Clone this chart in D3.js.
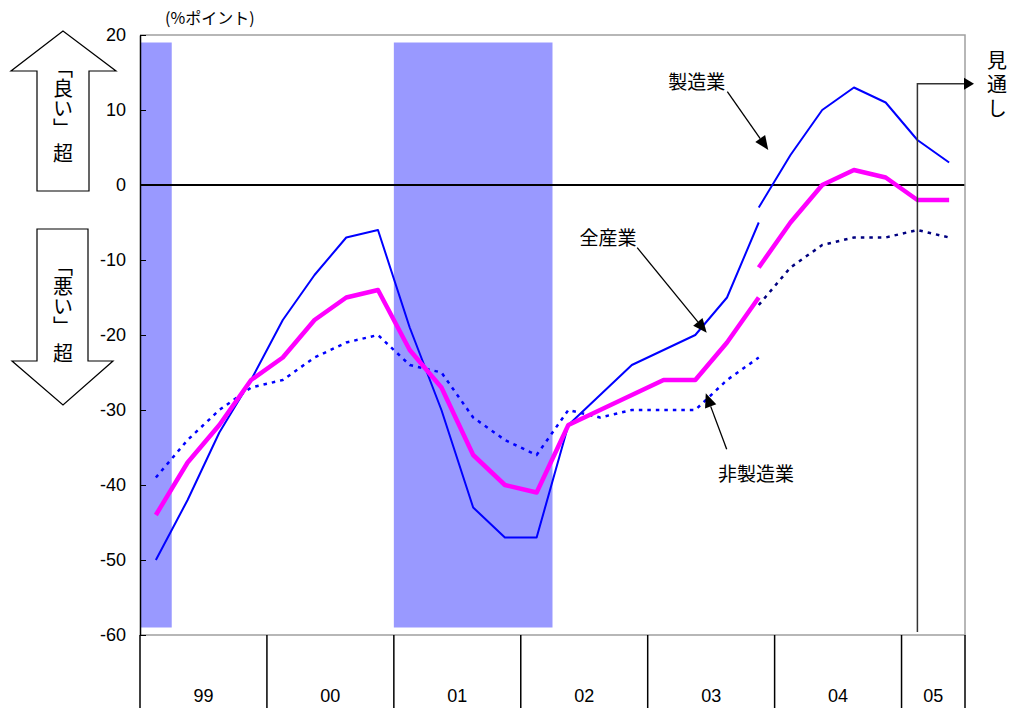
<!DOCTYPE html>
<html><head><meta charset="utf-8">
<script src="https://cdn.jsdelivr.net/npm/d3@7"></script>
<style>
html,body{margin:0;padding:0;background:#fff;}
svg{display:block;}
</style>
</head><body>
<svg id="c" width="1013" height="708"></svg>
<script>
// ---- data ----
const years = ["99","00","01","02","03","04","05"];
const quartersPerYear = [4,4,4,4,4,4,2];
const yTicks = [-60,-50,-40,-30,-20,-10,0,10,20];
// quarter index 0 = 99Q1; old series 0..19, new series 19..25
const mfgOld = [-50,-42,-33,-26,-18,-12,-7,-6,-19,-30,-43,-47,-47,-32,-28,-24,-22,-20,-15,-5];
const mfgNew = [-3,4,10,13,11,6,3];
const allOld = [-44,-37,-32,-26,-23,-18,-15,-14,-22,-27,-36,-40,-41,-32,-30,-28,-26,-26,-21,-15];
const allNew = [-11,-5,0,2,1,-2,-2];
const nonOld = [-39,-34,-30,-27,-26,-23,-21,-20,-24,-25,-31,-34,-36,-30,-31,-30,-30,-30,-26,-23];
const nonNew = [-16,-11,-8,-7,-7,-6,-7];
const newStart = 19;
// recession shading: [first quarter, last quarter]
const shadeFrom = [0, 8];
const shadeTo = [0, 12];
const shadeTop = 19, shadeBottom = -59;
const forecastQuarter = 24;

// ---- layout ----
const svg = d3.select("#c");
const L = 140, R = 965, T = 35, B = 635;
const nQ = d3.sum(quartersPerYear);
const x = d3.scaleLinear().domain([0, nQ]).range([L, R]);
const y = d3.scaleLinear().domain([-60, 20]).range([B, T]);
const NUM = "'Liberation Sans', Arial, sans-serif";
const JP = "'Noto Sans CJK JP', sans-serif";

// shading
svg.append("g").selectAll("rect").data(shadeFrom).join("rect")
  .attr("x", (d,i) => x(d))
  .attr("width", (d,i) => x(shadeTo[i] + 1) - x(d))
  .attr("y", y(shadeTop))
  .attr("height", y(shadeBottom) - y(shadeTop))
  .attr("fill", "#9999ff");

// zero line
svg.append("line").attr("x1", L).attr("x2", R).attr("y1", y(0)).attr("y2", y(0))
  .attr("stroke", "#000").attr("stroke-width", 2);

// series lines
const line = d3.line().x(d => x(d.i + 0.5)).y(d => y(d.v));
const toPts = (arr, off) => arr.map((v, k) => ({i: k + off, v}));
const series = [
  {d: toPts(nonOld, 0), c: "#0000ff", w: 2.5, dash: "3.5,5"},
  {d: toPts(nonNew, newStart), c: "#000080", w: 2.5, dash: "3.5,5"},
  {d: toPts(mfgOld, 0), c: "#0000ff", w: 2, dash: null},
  {d: toPts(mfgNew, newStart), c: "#0000ff", w: 2, dash: null},
  {d: toPts(allOld, 0), c: "#ff00ff", w: 4.5, dash: null},
  {d: toPts(allNew, newStart), c: "#ff00ff", w: 4.5, dash: null}
];
svg.append("g").selectAll("path").data(series).join("path")
  .attr("d", s => line(s.d))
  .attr("fill", "none")
  .attr("stroke", s => s.c)
  .attr("stroke-width", s => s.w)
  .attr("stroke-dasharray", s => s.dash)
  .attr("stroke-linejoin", "round");

// frame (top, right, bottom gray)
svg.append("path").attr("d", `M${L},${T}H${R}V${B}H${L}`)
  .attr("fill", "none").attr("stroke", "#a0a0a0").attr("stroke-width", 1.5);

// y axis
const yAxis = d3.axisLeft(y).tickValues(yTicks).tickFormat(d => String(d))
  .tickSizeInner(-6).tickSizeOuter(0).tickPadding(14);
const ga = svg.append("g").attr("transform", `translate(${L},0)`).call(yAxis);
ga.select(".domain").attr("stroke", "#000").attr("stroke-width", 1.5);
ga.selectAll(".tick line").attr("stroke", "#000").attr("stroke-width", 1);
ga.selectAll(".tick text").attr("font-family", NUM).attr("font-size", 18).attr("fill", "#000");

// category axis (years)
let acc = 0;
const yearStart = quartersPerYear.map(q => { const s = acc; acc += q; return s; });
const bounds = yearStart.concat([nQ]);
svg.append("g").selectAll("line").data(bounds).join("line")
  .attr("x1", d => x(d)).attr("x2", d => x(d))
  .attr("y1", B).attr("y2", 708)
  .attr("stroke", "#000").attr("stroke-width", 1.5);
svg.append("g").selectAll("text").data(years).join("text")
  .attr("x", (d,i) => x(yearStart[i] + quartersPerYear[i] / 2))
  .attr("y", 702)
  .attr("text-anchor", "middle")
  .attr("font-family", NUM).attr("font-size", 18)
  .text(d => d);

// unit label
svg.append("text").attr("x", 165).attr("y", 24).attr("font-family", JP).attr("font-size", 16).text("(%ポイント)");

// forecast marker
const fx = x(forecastQuarter + 0.5), fy = y(13.5);
const tipX = x(nQ) + 9;
svg.append("path").attr("d", `M${fx},${B - 3}V${fy}H${tipX - 9}`)
  .attr("fill", "none").attr("stroke", "#333").attr("stroke-width", 1.5);
svg.append("path").attr("d", `M${tipX},${fy}L${tipX - 10},${fy - 6}L${tipX - 10},${fy + 6}Z`).attr("fill", "#000");
svg.append("text").attr("x", 997).attr("y", 50)
  .attr("style", "writing-mode: vertical-rl; letter-spacing: 4px")
  .attr("font-family", JP).attr("font-size", 20).text("見通し");

// annotations (positions in quarter/value units)
const notes = [
  {t: "製造業", lx: 17.55, lv: 14.0, ax: 18.51, av: 12.44, bx: 19.80, bv: 4.67},
  {t: "全産業", lx: 14.75, lv: -6.93, ax: 15.67, av: -8.36, bx: 17.86, bv: -19.69},
  {t: "非製造業", lx: 19.41, lv: -38.27, ax: 18.49, av: -35.24, bx: 17.83, bv: -27.77}
];
const ng = svg.append("g");
notes.forEach(n => {
  ng.append("text").attr("x", x(n.lx)).attr("y", y(n.lv))
    .attr("text-anchor", "middle").attr("dominant-baseline", "central")
    .attr("font-family", JP).attr("font-size", 19).text(n.t);
  const x1 = x(n.ax), y1 = y(n.av), x2 = x(n.bx), y2 = y(n.bv);
  const dx = x2 - x1, dy = y2 - y1, len = Math.hypot(dx, dy);
  const ux = dx / len, uy = dy / len, hl = 14, hw = 6;
  const bxp = x2 - ux * hl, byp = y2 - uy * hl;
  ng.append("line").attr("x1", x1).attr("y1", y1).attr("x2", bxp).attr("y2", byp)
    .attr("stroke", "#000").attr("stroke-width", 1.3);
  ng.append("path").attr("d", `M${x2},${y2}L${bxp - uy * hw},${byp + ux * hw}L${bxp + uy * hw},${byp - ux * hw}Z`)
    .attr("fill", "#000");
});

// left arrows
const arrows = svg.append("g").attr("fill", "#fff").attr("stroke", "#000").attr("stroke-width", 1.2);
arrows.append("polygon").attr("points", "63,31 11,71 37,71 37,191 89,191 89,71 116,71");
arrows.append("polygon").attr("points", "37,229 88,229 88,361 113,361 63,405 12,361 37,361");
const vLabels = [["「良い」", 58], ["「悪い」", 256]];
svg.append("g").selectAll("text").data(vLabels).join("text")
  .attr("x", 63).attr("y", d => d[1])
  .attr("style", "writing-mode: vertical-rl")
  .attr("font-family", JP).attr("font-size", 20).text(d => d[0]);
const chou = [152, 352];
svg.append("g").selectAll("text").data(chou).join("text")
  .attr("x", 63).attr("y", d => d)
  .attr("text-anchor", "middle").attr("dominant-baseline", "central")
  .attr("font-family", JP).attr("font-size", 20).text("超");
</script>
</body></html>
